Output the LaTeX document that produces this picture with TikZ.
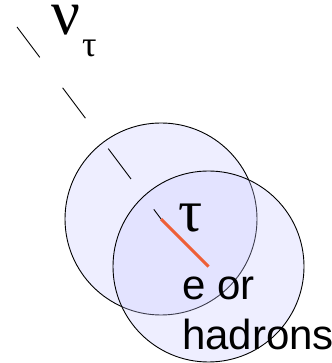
\documentclass[tikz,border=0pt]{standalone}
\usepackage{fontspec}
\setmainfont{Liberation Sans}
\newfontfamily\greekserif{Liberation Serif}
\usetikzlibrary{positioning}
\definecolor{discfill}{RGB}{200, 200, 255}
\definecolor{tauorange}{RGB}{238, 95, 55}
\tikzset{
  disc/.style={
    circle, draw=black, line width=0.9pt,
    fill=discfill, fill opacity=0.3, text opacity=1,
    minimum size=#1, inner sep=0pt
  },
  nuline/.style={
    line width=0.9pt, dash pattern=on 38pt off 38pt
  },
  tauline/.style={
    line width=3pt, color=tauorange
  },
  bigtext/.style={
    font=\fontsize{42}{50}\selectfont, align=left,
    anchor=base west, inner sep=0pt
  }
}

\begin{document}
\begin{tikzpicture}[x=1pt, y=1pt]
  \useasboundingbox (0,0) rectangle (331,363);

  % ── Interaction volumes ─────────────────────────────────
  \node[disc=192pt] (vol1) at (161,144) {};
  \node[disc=191pt] (vol2) at (208.5,96.5) {};

  % ── Incoming neutrino ───────────────────────────────────
  \coordinate (nustart) at (17,336);
  \draw[nuline] (nustart) -- (vol1.center);

  % ── Tau track ───────────────────────────────────────────
  \draw[tauline] (vol1.center) -- (vol2.center);

  % ── Labels ──────────────────────────────────────────────
  \node[anchor=base west, inner sep=0pt] (nulabel) at (51,328)
    {\greekserif\fontsize{64}{64}\selectfont ν\hspace{2pt}%
     \raisebox{-22pt}{\fontsize{36}{36}\selectfont τ}};
  \node[anchor=base west, inner sep=0pt] (taulabel) at (178,131)
    {\greekserif\fontsize{60}{60}\selectfont τ};
  \node[bigtext] (decay) at (182,13) {e or\\hadrons};

\end{tikzpicture}
\end{document}
